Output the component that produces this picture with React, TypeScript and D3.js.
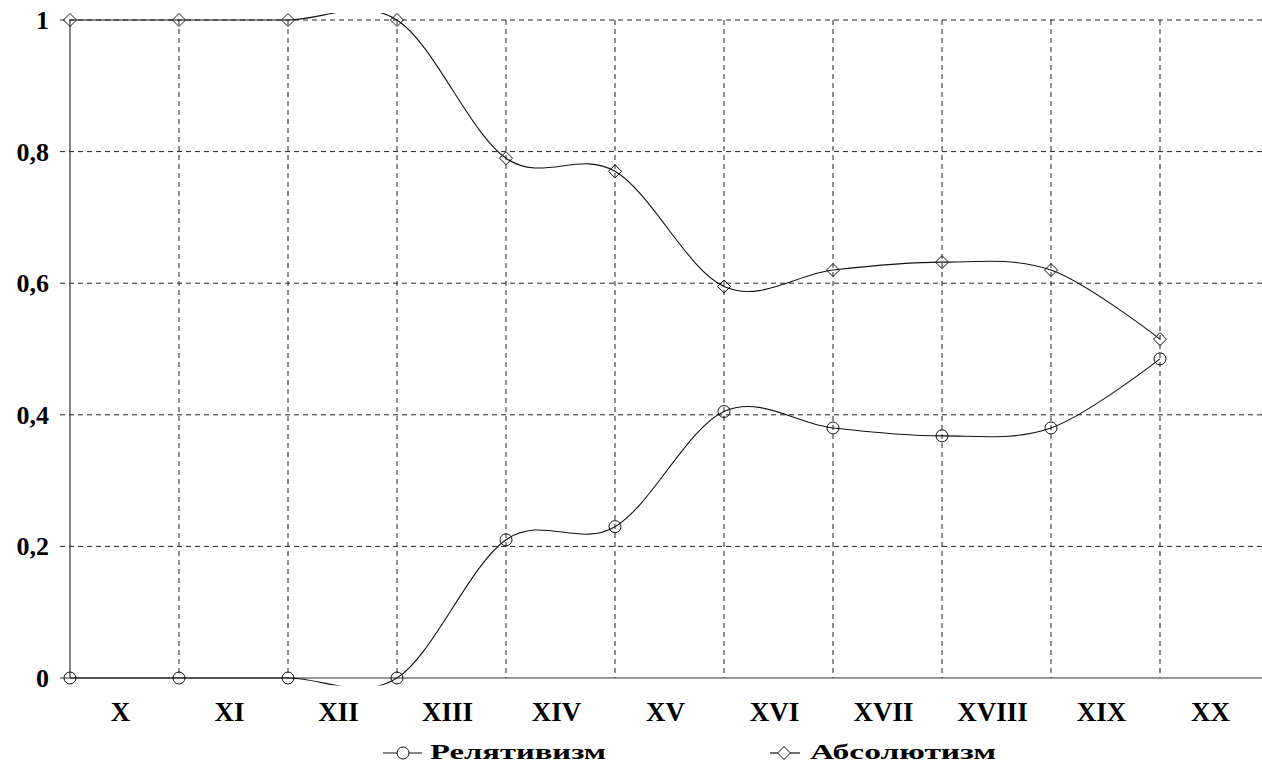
import React from "react";
import * as d3 from "d3";

const categories = ["X", "XI", "XII", "XIII", "XIV", "XV", "XVI", "XVII", "XVIII", "XIX", "XX"];
const relativism = [0, 0, 0, 0, 0.21, 0.23, 0.405, 0.38, 0.368, 0.38, 0.485];
const absolutism = [1, 1, 1, 1, 0.79, 0.77, 0.595, 0.62, 0.632, 0.62, 0.515];
const yTicks = [0, 0.2, 0.4, 0.6, 0.8, 1];
const yTickLabels = ["0", "0,2", "0,4", "0,6", "0,8", "1"];
const seriesNames = ["Релятивизм", "Абсолютизм"];

const W = 1262;
const H = 769;
const left = 70;
const step = 109;
const top = 20;
const bottom = 678;
const FONT = "'Liberation Serif', 'DejaVu Serif', 'Times New Roman', serif";

export default function App() {
  const x = d3
    .scaleBand<string>()
    .domain(categories)
    .range([left, left + step * categories.length])
    .paddingInner(0)
    .paddingOuter(0);
  const y = d3.scaleLinear().domain([0, 1]).range([bottom, top]);

  const line = d3
    .line<number>()
    .x((_, i) => x(categories[i]) as number)
    .y((d) => y(d))
    .curve(d3.curveCardinal.tension(0));

  const diamond = (cx: number, cy: number, r: number) =>
    `M${cx},${cy - r}L${cx + r},${cy}L${cx},${cy + r}L${cx - r},${cy}Z`;

  const textStyle = { fontFamily: FONT, fontWeight: 700 as const };

  return (
    <svg
      width={W}
      height={H}
      style={{ position: "absolute", left: 0, top: 0, background: "#fff" }}
    >
      <defs>
        <clipPath id="plotClip">
          <rect x={left} y={top - 7} width={W - left} height={bottom - top + 14.5} />
        </clipPath>
      </defs>
      <rect x={0} y={0} width={W} height={H} fill="#fff" />

      {/* horizontal gridlines */}
      {yTicks.map((t) =>
        t === 0 ? null : (
          <line
            key={"h" + t}
            x1={left - 10}
            x2={W}
            y1={y(t)}
            y2={y(t)}
            stroke="#222"
            strokeWidth={1}
            strokeDasharray="5,4"
          />
        )
      )}
      {/* vertical gridlines */}
      {categories.slice(1).map((c) => (
        <line
          key={"v" + c}
          x1={x(c) as number}
          x2={x(c) as number}
          y1={top}
          y2={bottom}
          stroke="#222"
          strokeWidth={1}
          strokeDasharray="5,4"
        />
      ))}
      {/* axes */}
      <line x1={left} x2={left} y1={top} y2={bottom} stroke="#333" strokeWidth={1.2} />
      <line x1={left - 10} x2={W} y1={bottom} y2={bottom} stroke="#333" strokeWidth={1.2} />

      {/* y labels */}
      {yTicks.map((t, i) => (
        <text
          key={"yl" + t}
          x={49}
          y={y(t) + 9}
          textAnchor="end"
          fontSize={26}
          fill="#000"
          style={textStyle}
        >
          {yTickLabels[i]}
        </text>
      ))}
      {/* x labels */}
      {categories.map((c) => (
        <text
          key={"xl" + c}
          x={(x(c) as number) + x.bandwidth() / 2 - 4}
          y={721}
          textAnchor="middle"
          fontSize={27}
          fill="#000"
          style={textStyle}
        >
          {c}
        </text>
      ))}

      {/* series lines */}
      <g clipPath="url(#plotClip)">
        <path d={line(relativism) || ""} fill="none" stroke="#111" strokeWidth={1.1} />
        <path d={line(absolutism) || ""} fill="none" stroke="#111" strokeWidth={1.1} />
      </g>

      {/* markers */}
      {relativism.map((v, i) => (
        <circle
          key={"rm" + i}
          cx={x(categories[i]) as number}
          cy={y(v)}
          r={6}
          fill="none"
          stroke="#111"
          strokeWidth={1}
        />
      ))}
      {absolutism.map((v, i) => (
        <path
          key={"am" + i}
          d={diamond(x(categories[i]) as number, y(v), 6.5)}
          fill="none"
          stroke="#111"
          strokeWidth={1}
        />
      ))}

      {/* legend */}
      <g>
        <line x1={383} x2={422} y1={753} y2={753} stroke="#111" strokeWidth={1.2} />
        <circle cx={403} cy={753} r={6} fill="#fff" stroke="#111" strokeWidth={1} />
        <text
          x={430}
          y={759}
          fontSize={22}
          fill="#000"
          style={textStyle}
          textLength={176}
          lengthAdjust="spacingAndGlyphs"
        >
          {seriesNames[0]}
        </text>
        <line x1={770} x2={800} y1={753} y2={753} stroke="#111" strokeWidth={1.2} />
        <path d={diamond(784, 753, 6.5)} fill="#fff" stroke="#111" strokeWidth={1} />
        <text
          x={810}
          y={759}
          fontSize={22}
          fill="#000"
          style={textStyle}
          textLength={186}
          lengthAdjust="spacingAndGlyphs"
        >
          {seriesNames[1]}
        </text>
      </g>
    </svg>
  );
}
